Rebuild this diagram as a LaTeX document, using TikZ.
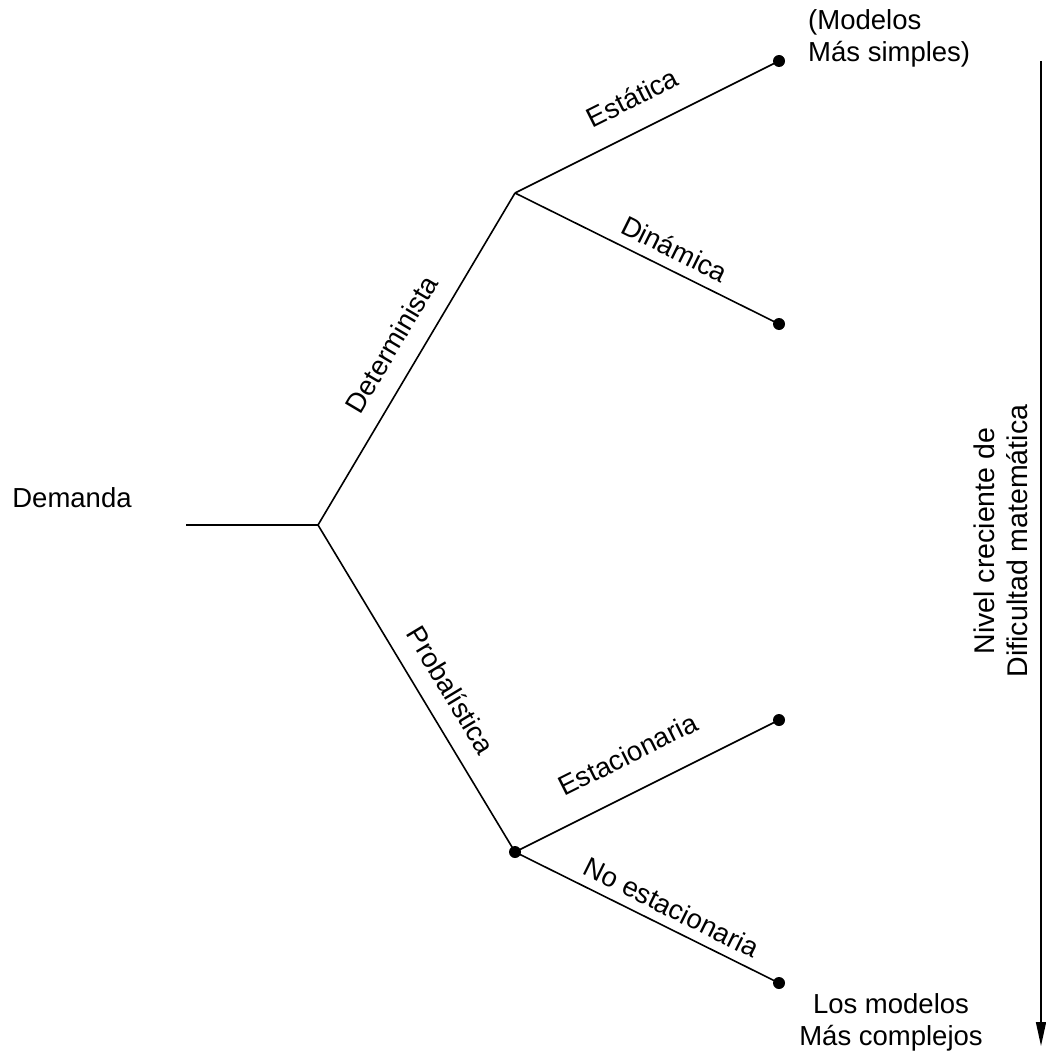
\documentclass[tikz,border=0pt]{standalone}
\usepackage{fontspec}
\setmainfont{Liberation Sans}
\usetikzlibrary{arrows.meta}
\begin{document}
\begin{tikzpicture}[x=1pt,y=-1pt,
  ln/.style={line width=1.6pt},
  lbl/.style={font=\fontsize{27.5}{32}\selectfont, inner sep=4pt},
  slbl/.style={lbl, sloped, anchor=center, yshift=#1},
  dotn/.style={circle, fill=black, inner sep=0pt, minimum size=12pt}]
\useasboundingbox (0,0) rectangle (1046,1057);
% nodes
\coordinate (d0) at (186,525);
\coordinate (root) at (318,525);
\coordinate (det) at (515,193);
\node[dotn] (prob) at (515,852) {};
\node[dotn] (est) at (779,61) {};
\node[dotn] (din) at (779,324) {};
\node[dotn] (esta) at (779,720) {};
\node[dotn] (noest) at (779,983) {};
\node[lbl] (dem) at (72,498) {Demanda};
\node[lbl, align=left, anchor=west] (simp) at (804,38) {(Modelos\\Más simples)};
\node[lbl, align=center] (comp) at (891,1022) {Los modelos\\Más complejos};
% connectors
\draw[ln] (d0) -- (root);
\draw[ln] (root) -- node[slbl=29pt, pos=0.5] {Determinista} (det);
\draw[ln] (root) -- node[slbl=29pt, pos=0.55] {Probalística} (prob.center);
\draw[ln] (det) -- node[slbl=33pt, pos=0.5] {Estática} (est.center);
\draw[ln] (det) -- node[slbl=21pt, pos=0.57] {Dinámica} (din.center);
\draw[ln] (prob.center) -- node[slbl=37pt, pos=0.49] {Estacionaria} (esta.center);
\draw[ln] (prob.center) -- node[slbl=20pt, pos=0.56] {No estacionaria} (noest.center);
% arrow
\coordinate (atop) at (1041,61);
\coordinate (abot) at (1041,1046);
\draw[ln, -{Triangle[length=24pt,width=10pt]}] (atop) -- (abot);
\node[lbl, rotate=90, align=center, font=\fontsize{28.5}{33}\selectfont] (nivel) at (1001,541) {Nivel creciente de\\Dificultad matemática};
\end{tikzpicture}
\end{document}
